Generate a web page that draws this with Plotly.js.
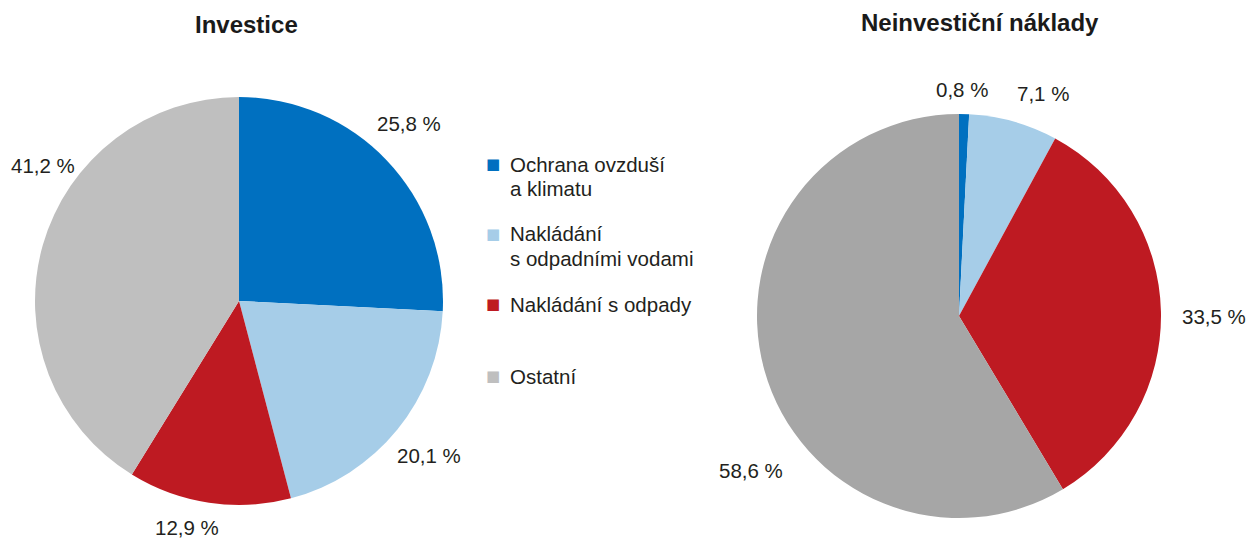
<!DOCTYPE html>
<html>
<head>
<meta charset="utf-8">
<script src="https://cdn.plot.ly/plotly-3.0.1.min.js"></script>
<style>html,body{margin:0;padding:0;background:#fff;}#chart{width:1248px;height:538px;}</style>
</head>
<body>
<div id="chart"></div>
<script>
// ---- data ----
var categories = ["Ochrana ovzduší a klimatu", "Nakládání s odpadními vodami", "Nakládání s odpady", "Ostatní"];
var legendLines = [["Ochrana ovzduší", "a klimatu"], ["Nakládání", "s odpadními vodami"], ["Nakládání s odpady"], ["Ostatní"]];
var investiceValues = [25.8, 20.1, 12.9, 41.2];
var neinvesticniValues = [0.8, 7.1, 33.5, 58.6];
var titles = ["Investice", "Neinvestiční náklady"];

// ---- styles / layout ----
var W = 1248, H = 538;
var colorsLeft = ["#0070C0", "#A6CDE8", "#BE1A22", "#BFBFBF"];
var colorsRight = ["#0070C0", "#A6CDE8", "#BE1A22", "#A6A6A6"];
var textColor = "#231F20";
var fontFamily = "Liberation Sans, Arial, sans-serif";

function px2x(px) { return px / W; }
function px2y(py) { return 1 - py / H; }

// pie placement (pixels): center and radius
var leftPie = {cx: 239, cy: 301, r: 204};
var rightPie = {cx: 959, cy: 316, r: 202};
function domainOf(p) {
  return {x: [px2x(p.cx - p.r), px2x(p.cx + p.r)], y: [px2y(p.cy + p.r), px2y(p.cy - p.r)]};
}

// data-label positions (pixel centers), in slice order
var leftLabelPos = [[409, 124], [429, 455], [187, 527], [43, 165]];
var rightLabelPos = [[962, 90], [1043, 93], [1214, 316], [751, 470]];
var titlePos = [[246, 24], [980, 23]];
var legendSquareX = 493, legendTextX = 508;
var legendRowY = [164, 234, 304, 376];
var legendLineGap = 24;

function fmt(v) { return v.toFixed(1).replace('.', ',') + ' %'; }

var traces = [
  {
    type: 'pie', labels: categories, values: investiceValues, sort: false,
    direction: 'clockwise', rotation: 0, domain: domainOf(leftPie),
    marker: {colors: colorsLeft, line: {width: 0}},
    textinfo: 'none', hoverinfo: 'label+percent', showlegend: false
  },
  {
    type: 'pie', labels: categories, values: neinvesticniValues, sort: false,
    direction: 'clockwise', rotation: 0, domain: domainOf(rightPie),
    marker: {colors: colorsRight, line: {width: 0}},
    textinfo: 'none', hoverinfo: 'label+percent', showlegend: false
  }
];

var annotations = [];
titles.forEach(function (t, i) {
  annotations.push({
    text: '<b>' + t + '</b>', x: px2x(titlePos[i][0]), y: px2y(titlePos[i][1]),
    xref: 'paper', yref: 'paper', xanchor: 'center', yanchor: 'middle', showarrow: false,
    font: {family: fontFamily, size: 24, color: '#1a1a1a'}
  });
});
investiceValues.forEach(function (v, i) {
  annotations.push({
    text: fmt(v), x: px2x(leftLabelPos[i][0]), y: px2y(leftLabelPos[i][1]),
    xref: 'paper', yref: 'paper', xanchor: 'center', yanchor: 'middle', showarrow: false,
    font: {family: fontFamily, size: 20.5, color: textColor}
  });
});
neinvesticniValues.forEach(function (v, i) {
  annotations.push({
    text: fmt(v), x: px2x(rightLabelPos[i][0]), y: px2y(rightLabelPos[i][1]),
    xref: 'paper', yref: 'paper', xanchor: 'center', yanchor: 'middle', showarrow: false,
    font: {family: fontFamily, size: 20.5, color: textColor}
  });
});
legendLines.forEach(function (lines, i) {
  annotations.push({
    text: '■', x: px2x(legendSquareX), y: px2y(legendRowY[i]),
    xref: 'paper', yref: 'paper', xanchor: 'center', yanchor: 'middle', showarrow: false,
    font: {family: 'DejaVu Sans', size: 15, color: colorsLeft[i]}
  });
  lines.forEach(function (ln, j) {
    annotations.push({
      text: ln, x: px2x(legendTextX), y: px2y(legendRowY[i] + j * legendLineGap),
      xref: 'paper', yref: 'paper', xanchor: 'left', yanchor: 'middle', align: 'left', showarrow: false,
      font: {family: fontFamily, size: 20.5, color: textColor}
    });
  });
});

var layout = {
  width: W, height: H,
  margin: {l: 0, r: 0, t: 0, b: 0},
  paper_bgcolor: '#ffffff', plot_bgcolor: '#ffffff',
  showlegend: false,
  annotations: annotations
};

Plotly.newPlot('chart', traces, layout, {displayModeBar: false, staticPlot: true});
</script>
</body>
</html>
